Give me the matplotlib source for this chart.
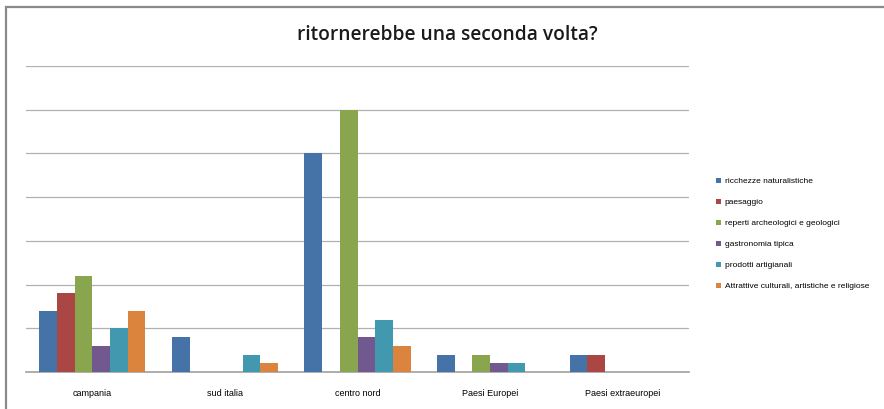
import numpy as np
import matplotlib.pyplot as plt
from matplotlib.patches import Rectangle

categories = ["campania", "sud italia", "centro nord", "Paesi Europei", "Paesi extraeuropei"]
series_names = [
    "ricchezze naturalistiche",
    "paesaggio",
    "reperti archeologici e geologici",
    "gastronomia tipica",
    "prodotti artigianali",
    "Attrattive culturali, artistiche e religiose",
]
ricchezze = [7, 4, 25, 2, 2]
paesaggio = [9, 0, 0, 0, 2]
reperti = [11, 0, 30, 2, 0]
gastronomia = [3, 0, 4, 1, 0]
artigianali = [5, 2, 6, 1, 0]
attrattive = [7, 1, 3, 0, 0]
series_values = [ricchezze, paesaggio, reperti, gastronomia, artigianali, attrattive]
colors = ["#4572A7", "#AA4643", "#89A54E", "#71588F", "#4198AF", "#DB843D"]

fig = plt.figure(figsize=(8.84, 4.09), dpi=100)
fig.patch.set_facecolor("white")

# chart frame (only top and left edges fall inside the image)
fig.patches.append(Rectangle((5.5 / 884, -0.05), 1.2, 1 - 6.5 / 409 + 0.05,
                             transform=fig.transFigure, fill=False,
                             edgecolor="#8a8a8a", linewidth=1.6, zorder=0))

ax = fig.add_axes([26 / 884, 1 - 372 / 409, (689 - 26) / 884, (372 - 66) / 409])
x = np.arange(len(categories))
n = len(series_values)
w = 0.8 / n
for i, (name, vals, c) in enumerate(zip(series_names, series_values, colors)):
    ax.bar(x - 0.4 + w * (i + 0.5), vals, width=w, color=c, label=name, zorder=3)

ax.set_xlim(-0.5, len(categories) - 0.5)
ax.set_ylim(0, 35)
ax.set_yticks(np.arange(5, 36, 5))
ax.yaxis.grid(True, color="#b0b0b0", linewidth=0.9, zorder=0)
ax.tick_params(axis="y", length=0, labelleft=False)
ax.set_xticks(x)
ax.set_xticklabels(categories, fontsize=6.5, family="Liberation Sans")
ax.tick_params(axis="x", length=0, pad=12)
for s in ["top", "right", "left"]:
    ax.spines[s].set_visible(False)
ax.spines["bottom"].set_color("#a0a0a0")
ax.spines["bottom"].set_linewidth(1.2)

fig.text(447 / 884, 1 - 35 / 409, "ritornerebbe una seconda volta?",
         ha="center", va="center", fontsize=13.8, family="Open Sans",
         fontweight="semibold", color="#1a1a1a")

fig.legend(loc="upper left", bbox_to_anchor=(708 / 884, 1 - 170 / 409),
           frameon=False, prop={"family": "Liberation Sans", "size": 6},
           handlelength=0.6, handleheight=0.6, handletextpad=0.5,
           labelspacing=1.62)

fig.savefig("out.png", dpi=100, facecolor="white")
